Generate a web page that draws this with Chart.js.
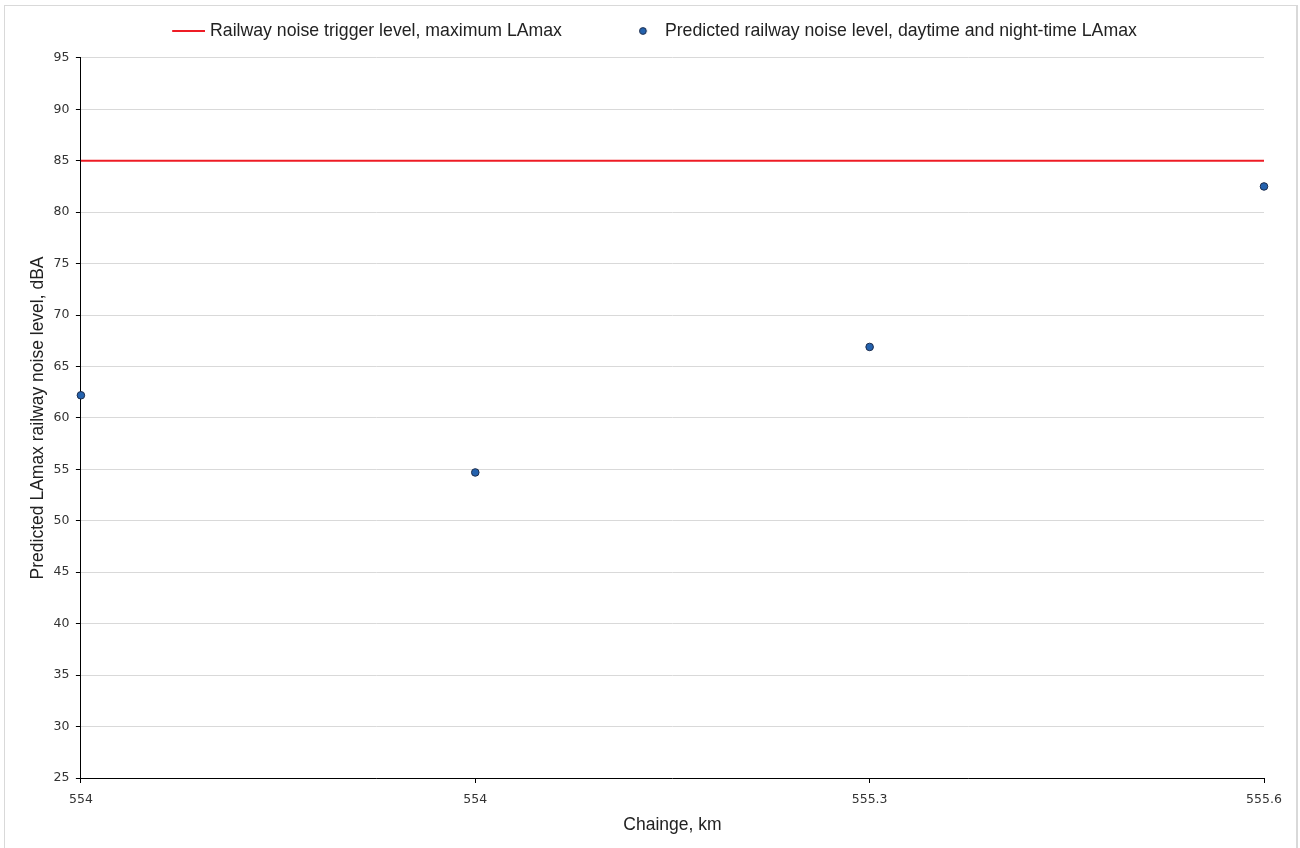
<!DOCTYPE html>
<html>
<head>
<meta charset="utf-8">
<script src="https://cdn.jsdelivr.net/npm/chart.js@4.4.1/dist/chart.umd.min.js"></script>
<style>
  html, body { margin: 0; padding: 0; background: #fff; overflow: hidden; }
  #wrap { position: absolute; left: 0; top: 0; width: 1300px; height: 848px; }
  #frame { position: absolute; left: 4px; top: 5px; width: 1291px; height: 860px; border: 1px solid #d9d9d9; border-right-width: 2px; pointer-events: none; }
</style>
</head>
<body>
<div id="wrap"><canvas id="noiseChart"></canvas></div>
<div id="frame"></div>
<script>
// Chainage labels as shown on the x axis
const chainages = ['554', '554', '555.3', '555.6'];
// Predicted LAmax levels (dBA)
const predictedLAmax = [62.2, 54.7, 66.9, 82.5];
// Trigger level, maximum LAmax
const triggerLevel = [85, 85, 85, 85];

const RED = '#ee1c25';
const DOT_FILL = '#2462ae';
const DOT_EDGE = '#1c2c4c';

// legend icons (transparent margins shift the mark inside the legend box)
function makeLineIcon() {
    const c = document.createElement('canvas');
    c.width = 54; c.height = 2;
    const g = c.getContext('2d');
    g.fillStyle = RED;
    g.fillRect(21, 0, 33, 2);
    return c;
}
function makeDotIcon() {
    const c = document.createElement('canvas');
    c.width = 32; c.height = 10;
    const g = c.getContext('2d');
    g.beginPath();
    g.arc(25.85, 5, 3.4, 0, Math.PI * 2);
    g.fillStyle = DOT_FILL;
    g.fill();
    g.lineWidth = 1;
    g.strokeStyle = DOT_EDGE;
    g.stroke();
    return c;
}
const legendIcons = [makeLineIcon(), makeDotIcon()];

// extra gap between legend and plot
const legendGap = {
    id: 'legendGap',
    beforeInit(chart) {
        const fit = chart.legend.fit;
        chart.legend.fit = function () {
            fit.call(this);
            this.height += 8;
        };
    }
};

const tickFont = { family: 'DejaVu Sans', size: 12.5 };
const titleFont = { family: 'Liberation Sans', size: 17.5 };
const legendFont = { family: 'Liberation Sans', size: 17.7 };

new Chart(document.getElementById('noiseChart').getContext('2d'), {
    type: 'line',
    data: {
        labels: chainages,
        datasets: [
            {
                label: 'Railway noise trigger level, maximum LAmax',
                data: triggerLevel,
                borderColor: RED,
                borderWidth: 2,
                pointRadius: 0,
                fill: false
            },
            {
                label: 'Predicted railway noise level, daytime and night-time LAmax',
                data: predictedLAmax,
                showLine: false,
                pointRadius: 3.8,
                pointBackgroundColor: DOT_FILL,
                pointBorderColor: DOT_EDGE,
                pointBorderWidth: 1
            }
        ]
    },
    plugins: [legendGap],
    options: {
        responsive: true,
        maintainAspectRatio: false,
        animation: false,
        layout: { padding: { left: 28, right: 36, top: -26, bottom: 8 } },
        plugins: {
            tooltip: { enabled: false },
            legend: {
                position: 'top',
                labels: {
                    usePointStyle: true,
                    pointStyleWidth: 46,
                    padding: 48.15,
                    color: '#222',
                    font: legendFont,
                    generateLabels: (chart) => {
                        const items = Chart.defaults.plugins.legend.labels.generateLabels(chart);
                        items.forEach((it, i) => { it.pointStyle = legendIcons[i]; });
                        return items;
                    }
                }
            }
        },
        scales: {
            x: {
                type: 'category',
                offset: false,
                border: { color: '#000', width: 1 },
                grid: { drawOnChartArea: false, drawTicks: true, tickLength: 5, tickColor: '#000' },
                ticks: { color: '#333', font: tickFont, padding: 9.5, maxRotation: 0, autoSkip: false },
                title: { display: true, text: 'Chainge, km', color: '#222', font: titleFont, padding: { top: -2, bottom: 4 } }
            },
            y: {
                min: 25,
                max: 95,
                border: { color: '#000', width: 1 },
                grid: { color: '#d9d9d9', tickLength: 5, tickColor: '#000' },
                ticks: { stepSize: 5, color: '#333', font: tickFont, padding: 6.5 },
                title: { display: true, text: 'Predicted LAmax railway noise level, dBA', color: '#222', font: titleFont, padding: { top: 0, bottom: -2 } }
            }
        }
    }
});
</script>
</body>
</html>
